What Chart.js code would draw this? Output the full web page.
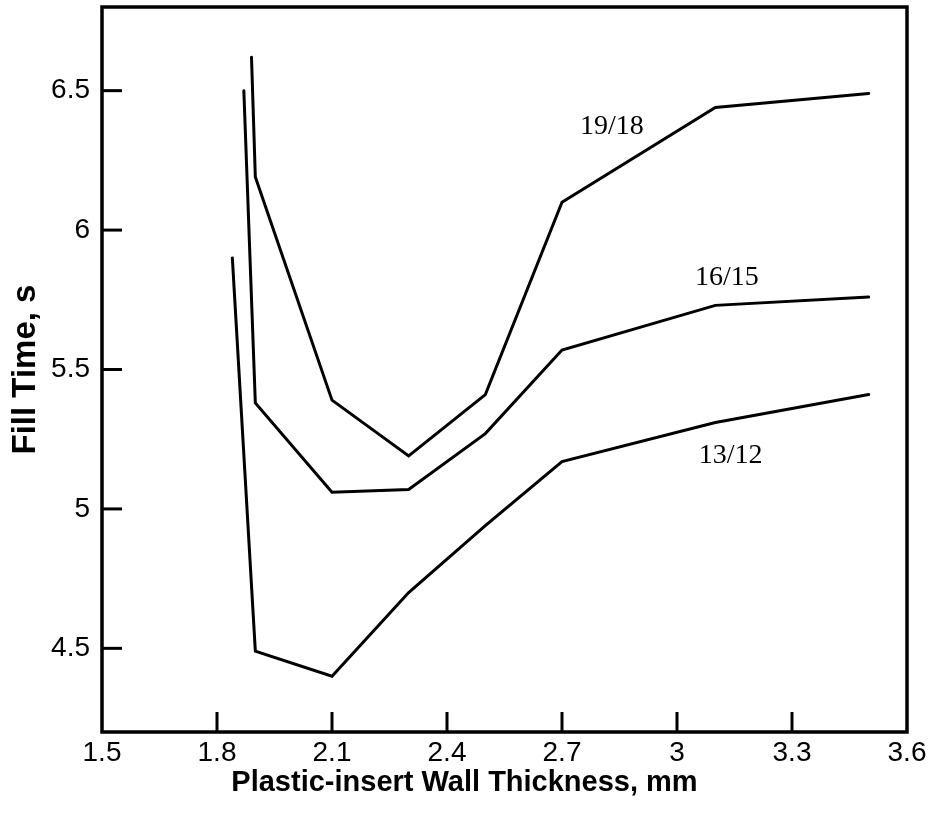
<!DOCTYPE html>
<html>
<head>
<meta charset="utf-8">
<script src="https://cdn.jsdelivr.net/npm/chart.js@4"></script>
<style>
  html, body { margin: 0; padding: 0; background: #fff; }
  #wrap { width: 929px; height: 819px; }
</style>
</head>
<body>
<div id="wrap"><canvas id="fillChart" width="929" height="819"></canvas></div>
<script>
// Fill time vs plastic-insert wall thickness, three gate configurations

// ── Data ───────────────────────────────────────────────
const thick1918 = [1.89, 1.90, 2.10, 2.30, 2.50, 2.70, 3.10, 3.50];
const fill1918  = [6.62, 6.19, 5.39, 5.19, 5.41, 6.10, 6.44, 6.49];

const thick1615 = [1.87, 1.90, 2.10, 2.30, 2.50, 2.70, 3.10, 3.50];
const fill1615  = [6.50, 5.38, 5.06, 5.07, 5.27, 5.57, 5.73, 5.76];

const thick1312 = [1.84, 1.90, 2.10, 2.30, 2.50, 2.70, 3.10, 3.50];
const fill1312  = [5.90, 4.49, 4.40, 4.70, 4.94, 5.17, 5.31, 5.41];

const seriesNames = ["19/18", "16/15", "13/12"];
// where each curve's name sits, in data units
const nameX = [2.83, 3.13, 3.14];
const nameY = [6.37, 5.83, 5.19];

const xTicks = [1.5, 1.8, 2.1, 2.4, 2.7, 3, 3.3, 3.6];
const yTicks = [4.2, 4.5, 5, 5.5, 6, 6.5, 6.8];
const yLabelled = [4.5, 5, 5.5, 6, 6.5];

const xTitle = "Plastic-insert Wall Thickness, mm";
const yTitle = "Fill Time, s";

function toPoints(xs, ys) {
  return xs.map((v, i) => ({ x: v, y: ys[i] }));
}

// ── Frame, inward ticks, curve names, axis titles ─────
const decorations = {
  id: "decorations",
  afterDraw(chart) {
    const { ctx, chartArea: a, scales } = chart;
    const x = scales.x, y = scales.y;
    ctx.save();
    ctx.strokeStyle = "#000";
    ctx.lineCap = "butt";

    ctx.lineWidth = 3.5;
    ctx.strokeRect(a.left, a.top, a.right - a.left, a.bottom - a.top);

    ctx.lineWidth = 3;
    xTicks.slice(1, -1).forEach((v) => {
      const px = x.getPixelForValue(v);
      ctx.beginPath();
      ctx.moveTo(px, a.bottom);
      ctx.lineTo(px, a.bottom - 20);
      ctx.stroke();
    });
    yLabelled.forEach((v) => {
      const py = y.getPixelForValue(v);
      ctx.beginPath();
      ctx.moveTo(a.left, py);
      ctx.lineTo(a.left + 20, py);
      ctx.stroke();
    });

    ctx.fillStyle = "#000";
    ctx.textAlign = "center";
    ctx.textBaseline = "middle";
    ctx.font = "28px 'Liberation Serif', 'Times New Roman', serif";
    seriesNames.forEach((name, i) => {
      ctx.fillText(name, x.getPixelForValue(nameX[i]), y.getPixelForValue(nameY[i]));
    });

    ctx.font = "bold 29px 'Liberation Sans', Arial, sans-serif";
    ctx.fillText(xTitle, chart.width / 2, 783);

    ctx.font = "bold 33px 'Liberation Sans', Arial, sans-serif";
    ctx.translate(26, (a.top + a.bottom) / 2);
    ctx.rotate(-Math.PI / 2);
    ctx.fillText(yTitle, 0, 0);
    ctx.restore();
  },
};

// ── Chart ─────────────────────────────────────────────
const lineStyle = {
  showLine: true,
  borderColor: "#000",
  borderWidth: 3,
  pointRadius: 0,
  borderJoinStyle: "miter",
  borderCapStyle: "round",
  tension: 0,
};

const tickFont = { family: "'Liberation Sans', Arial, sans-serif", size: 28 };

new Chart(document.getElementById("fillChart"), {
  type: "scatter",
  data: {
    datasets: [
      { label: seriesNames[0], data: toPoints(thick1918, fill1918), ...lineStyle },
      { label: seriesNames[1], data: toPoints(thick1615, fill1615), ...lineStyle },
      { label: seriesNames[2], data: toPoints(thick1312, fill1312), ...lineStyle },
    ],
  },
  options: {
    responsive: false,
    animation: false,
    devicePixelRatio: 1,
    layout: { padding: { left: 0, right: 22, top: 7, bottom: 0 } },
    plugins: {
      legend: { display: false },
      tooltip: { enabled: false },
    },
    scales: {
      x: {
        type: "linear",
        min: 1.5,
        max: 3.6,
        afterBuildTicks: (scale) => {
          scale.ticks = xTicks.map((v) => ({ value: v }));
        },
        afterFit: (scale) => {
          scale.height = 87;
          scale.paddingLeft = 0;
          scale.paddingRight = 0;
        },
        grid: { display: false, drawTicks: false },
        border: { display: false },
        ticks: {
          padding: 4,
          color: "#000",
          maxRotation: 0,
          autoSkip: false,
          font: tickFont,
          callback: (v) => String(Math.round(v * 10) / 10),
        },
      },
      y: {
        type: "linear",
        min: 4.2,
        max: 6.8,
        afterBuildTicks: (scale) => {
          scale.ticks = yTicks.map((v) => ({ value: v }));
        },
        afterFit: (scale) => {
          scale.width = 102;
          scale.paddingTop = 0;
          scale.paddingBottom = 0;
        },
        grid: { display: false, drawTicks: false },
        border: { display: false },
        ticks: {
          padding: 12,
          color: "#000",
          autoSkip: false,
          font: tickFont,
          callback: (v) => (yLabelled.includes(v) ? String(v) : null),
        },
      },
    },
  },
  plugins: [decorations],
});
</script>
</body>
</html>
